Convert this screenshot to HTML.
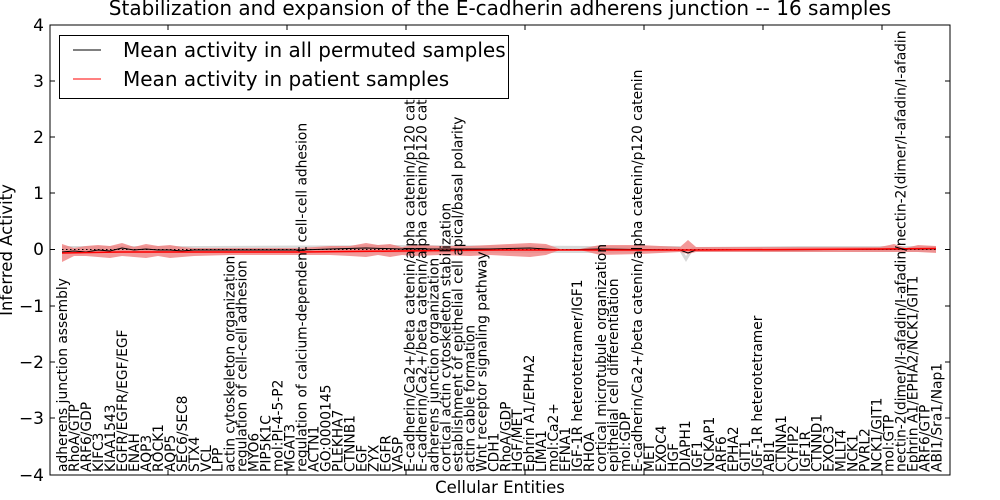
<!DOCTYPE html>
<html><head><meta charset="utf-8"><style>
html,body{margin:0;padding:0;background:#fff;}
svg{display:block;font-family:"DejaVu Sans","Liberation Sans",sans-serif;}
</style></head><body>
<svg width="1000" height="500" viewBox="0 0 1000 500" xmlns="http://www.w3.org/2000/svg">
<rect width="1000" height="500" fill="#fff"/>
<polygon fill="#d8d8d8" points="62,246 100,246 200,246 400,245 600,246 680,246 686,256 692,247 800,246 936,246 936,252 800,252 692,252 686,262 680,252 600,253 400,253 200,253 100,253 62,253"/>
<polygon fill="#f08080" fill-opacity="0.8" points="62,244 74,248 86,246 98,245 110,246 122,243 134,247 146,244 158,246 170,245 182,247 194,248 230,248 300,248 330,246 350,246 366,243 378,245 390,244 402,247 414,245 440,246 470,246 490,245 510,244 530,243 546,244 560,249 580,249 600,245 640,245 680,247 688,240 696,247 760,247 880,247 894,244 906,248 918,245 936,246 936,253 918,252 906,252 894,252 880,252 760,252 696,252 688,254 680,252 640,254 600,255 580,250 560,250 546,255 530,257 510,256 490,255 470,256 440,255 414,256 402,255 390,257 378,255 366,257 350,256 330,255 300,255 230,255 194,256 182,257 170,258 158,256 146,258 134,257 122,256 110,258 98,257 86,256 74,256 62,262"/>
<line x1="62" y1="249.5" x2="936" y2="249.5" stroke="#000" stroke-width="1" stroke-dasharray="1.5,2.5"/>
<polyline fill="none" stroke="#000" stroke-width="1" points="62,252 74,251 86,252 98,250 110,251 122,248 134,250 146,249 158,250 170,250 182,251 194,250 300,250 330,249 366,248 402,249 440,249 490,249 530,248 560,250 600,249 680,250 688,253 696,250 936,249"/>
<polyline fill="none" stroke="#ff0000" stroke-width="1.5" points="62,253 120,252 200,252 300,252 400,251 500,250 600,250 700,250 800,249.5 880,249 936,248.5"/>
<g stroke="#000" stroke-width="1">
<line x1="50" y1="81" x2="55" y2="81"/><line x1="50" y1="137" x2="55" y2="137"/><line x1="50" y1="193" x2="55" y2="193"/><line x1="50" y1="249.5" x2="55" y2="249.5"/><line x1="50" y1="306" x2="55" y2="306"/><line x1="50" y1="362" x2="55" y2="362"/><line x1="50" y1="418" x2="55" y2="418"/>
<line x1="945" y1="81" x2="950" y2="81"/><line x1="945" y1="137" x2="950" y2="137"/><line x1="945" y1="193" x2="950" y2="193"/><line x1="945" y1="249.5" x2="950" y2="249.5"/><line x1="945" y1="306" x2="950" y2="306"/><line x1="945" y1="362" x2="950" y2="362"/><line x1="945" y1="418" x2="950" y2="418"/>
<line x1="168" y1="25" x2="168" y2="30"/><line x1="287" y1="25" x2="287" y2="30"/><line x1="406" y1="25" x2="406" y2="30"/><line x1="525" y1="25" x2="525" y2="30"/><line x1="644" y1="25" x2="644" y2="30"/><line x1="763" y1="25" x2="763" y2="30"/><line x1="882" y1="25" x2="882" y2="30"/>
<line x1="168" y1="470" x2="168" y2="475"/><line x1="287" y1="470" x2="287" y2="475"/><line x1="406" y1="470" x2="406" y2="475"/><line x1="525" y1="470" x2="525" y2="475"/><line x1="644" y1="470" x2="644" y2="475"/><line x1="763" y1="470" x2="763" y2="475"/><line x1="882" y1="470" x2="882" y2="475"/>
</g>
<g font-size="13.8" fill="#000">
<text transform="translate(67,472) rotate(-90)">adherens junction assembly</text>
<text transform="translate(79,472) rotate(-90)">RhoA/GTP</text>
<text transform="translate(91,472) rotate(-90)">ARF6/GDP</text>
<text transform="translate(102.9,472) rotate(-90)">KIFC3</text>
<text transform="translate(114.9,472) rotate(-90)">KIAA1543</text>
<text transform="translate(126.9,472) rotate(-90)">EGFR/EGFR/EGF/EGF</text>
<text transform="translate(138.9,472) rotate(-90)">ENAH</text>
<text transform="translate(150.9,472) rotate(-90)">AQP3</text>
<text transform="translate(162.8,472) rotate(-90)">ROCK1</text>
<text transform="translate(174.8,472) rotate(-90)">AQP5</text>
<text transform="translate(186.8,472) rotate(-90)">SEC6/SEC8</text>
<text transform="translate(198.8,472) rotate(-90)">STX4</text>
<text transform="translate(210.8,472) rotate(-90)">VCL</text>
<text transform="translate(222.7,472) rotate(-90)">LPP</text>
<text transform="translate(234.7,472) rotate(-90)">actin cytoskeleton organization</text>
<text transform="translate(246.7,472) rotate(-90)">regulation of cell-cell adhesion</text>
<text transform="translate(258.7,472) rotate(-90)">MYO6</text>
<text transform="translate(270.7,472) rotate(-90)">PIP5K1C</text>
<text transform="translate(282.6,472) rotate(-90)">mol:PI-4-5-P2</text>
<text transform="translate(294.6,472) rotate(-90)">MGAT3</text>
<text transform="translate(306.6,472) rotate(-90)">regulation of calcium-dependent cell-cell adhesion</text>
<text transform="translate(318.6,472) rotate(-90)">ACTN1</text>
<text transform="translate(330.6,472) rotate(-90)">GO:0000145</text>
<text transform="translate(342.5,472) rotate(-90)">PLEKHA7</text>
<text transform="translate(354.5,472) rotate(-90)">CTNNB1</text>
<text transform="translate(366.5,472) rotate(-90)">EGF</text>
<text transform="translate(378.5,472) rotate(-90)">ZYX</text>
<text transform="translate(390.5,472) rotate(-90)">EGFR</text>
<text transform="translate(402.4,472) rotate(-90)">VASP</text>
<text transform="translate(414.4,472) rotate(-90)">E-cadherin/Ca2+/beta catenin/alpha catenin/p120 catenin/N</text>
<text transform="translate(426.4,472) rotate(-90)">E-cadherin/Ca2+/beta catenin/alpha catenin/p120 catenin/N/ca</text>
<text transform="translate(438.4,472) rotate(-90)">adherens junction organization</text>
<text transform="translate(450.4,472) rotate(-90)">cortical actin cytoskeleton stabilization</text>
<text transform="translate(462.3,472) rotate(-90)">establishment of epithelial cell apical/basal polarity</text>
<text transform="translate(474.3,472) rotate(-90)">actin cable formation</text>
<text transform="translate(486.3,472) rotate(-90)">Wnt receptor signaling pathway</text>
<text transform="translate(498.3,472) rotate(-90)">CDH1</text>
<text transform="translate(510.3,472) rotate(-90)">RhoA/GDP</text>
<text transform="translate(522.2,472) rotate(-90)">HGF/MET</text>
<text transform="translate(534.2,472) rotate(-90)">Ephrin A1/EPHA2</text>
<text transform="translate(546.2,472) rotate(-90)">LIMA1</text>
<text transform="translate(558.2,472) rotate(-90)">mol:Ca2+</text>
<text transform="translate(570.2,472) rotate(-90)">EFNA1</text>
<text transform="translate(582.1,472) rotate(-90)">IGF-1R heterotetramer/IGF1</text>
<text transform="translate(594.1,472) rotate(-90)">RHOA</text>
<text transform="translate(606.1,472) rotate(-90)">cortical microtubule organization</text>
<text transform="translate(618.1,472) rotate(-90)">epithelial cell differentiation</text>
<text transform="translate(630.1,472) rotate(-90)">mol:GDP</text>
<text transform="translate(642,472) rotate(-90)">E-cadherin/Ca2+/beta catenin/alpha catenin/p120 catenin</text>
<text transform="translate(654,472) rotate(-90)">MET</text>
<text transform="translate(666,472) rotate(-90)">EXOC4</text>
<text transform="translate(678,472) rotate(-90)">HGF</text>
<text transform="translate(690,472) rotate(-90)">DIAPH1</text>
<text transform="translate(701.9,472) rotate(-90)">IGF1</text>
<text transform="translate(713.9,472) rotate(-90)">NCKAP1</text>
<text transform="translate(725.9,472) rotate(-90)">ARF6</text>
<text transform="translate(737.9,472) rotate(-90)">EPHA2</text>
<text transform="translate(749.9,472) rotate(-90)">GIT1</text>
<text transform="translate(761.8,472) rotate(-90)">IGF-1R heterotetramer</text>
<text transform="translate(773.8,472) rotate(-90)">ABI1</text>
<text transform="translate(785.8,472) rotate(-90)">CTNNA1</text>
<text transform="translate(797.8,472) rotate(-90)">CYFIP2</text>
<text transform="translate(809.8,472) rotate(-90)">IGF1R</text>
<text transform="translate(821.7,472) rotate(-90)">CTNND1</text>
<text transform="translate(833.7,472) rotate(-90)">EXOC3</text>
<text transform="translate(845.7,472) rotate(-90)">MLLT4</text>
<text transform="translate(857.7,472) rotate(-90)">NCK1</text>
<text transform="translate(869.7,472) rotate(-90)">PVRL2</text>
<text transform="translate(881.6,472) rotate(-90)">NCK1/GIT1</text>
<text transform="translate(893.6,472) rotate(-90)">mol:GTP</text>
<text transform="translate(905.6,472) rotate(-90)">nectin-2(dimer)/I-afadin/I-afadin/nectin-2(dimer/I-afadin/I-afadin</text>
<text transform="translate(917.6,472) rotate(-90)">Ephrin A1/EPHA2/NCK1/GIT1</text>
<text transform="translate(929.6,472) rotate(-90)">ARF6/GTP</text>
<text transform="translate(941.5,472) rotate(-90)">ABI1/Sra1/Nap1</text>
</g>
<text x="500" y="15" font-size="20" text-anchor="middle" fill="#000">Stabilization and expansion of the E-cadherin adherens junction -- 16 samples</text>
<rect x="50" y="25" width="900" height="450" fill="none" stroke="#000" stroke-width="1"/>
<rect x="59.5" y="35.5" width="449" height="63" fill="#fff" stroke="#000" stroke-width="1"/>
<line x1="73" y1="50" x2="101" y2="50" stroke="#000" stroke-width="1"/>
<line x1="73" y1="79" x2="101" y2="79" stroke="#ff0000" stroke-width="1"/>
<text x="123" y="57" font-size="20" fill="#000">Mean activity in all permuted samples</text>
<text x="123" y="86" font-size="20" fill="#000">Mean activity in patient samples</text>
<g font-size="17" text-anchor="end" fill="#000">
<text x="44" y="31">4</text><text x="44" y="87">3</text><text x="44" y="143">2</text><text x="44" y="199">1</text><text x="44" y="255">0</text><text x="44" y="312">−1</text><text x="44" y="368">−2</text><text x="44" y="424">−3</text><text x="44" y="481">−4</text>
</g>
<text transform="translate(12,250) rotate(-90)" font-size="16.5" text-anchor="middle" fill="#000">Inferred Activity</text>
<text x="500" y="493" font-size="16.5" text-anchor="middle" fill="#000">Cellular Entities</text>
</svg>
</body></html>
